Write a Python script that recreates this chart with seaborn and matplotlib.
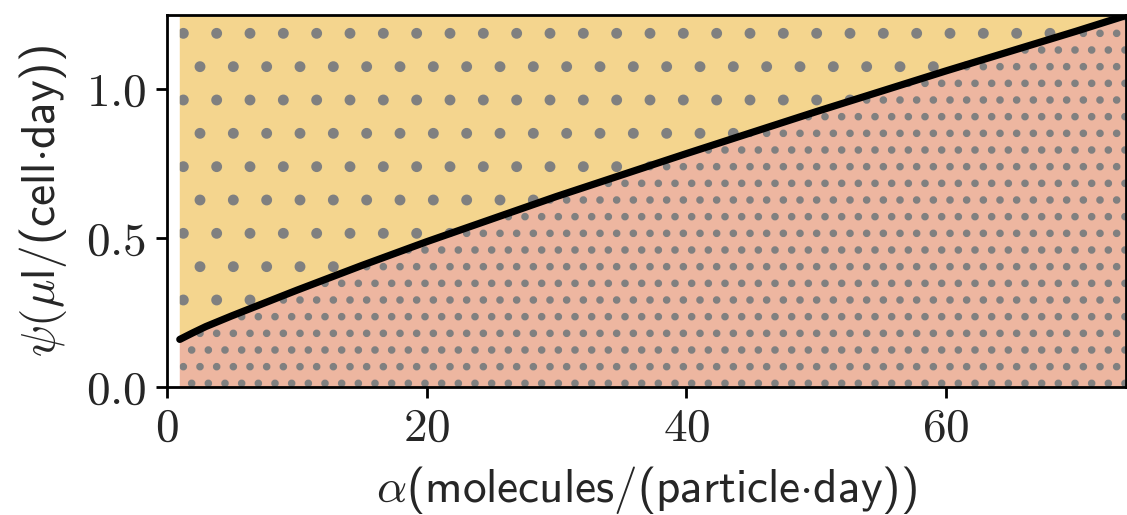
import seaborn as sns
import matplotlib.pyplot as plt
from matplotlib.ticker import FuncFormatter

# threshold curve
alpha = [1, 2, 3, 5, 7.5, 10, 15, 20, 30, 40, 50, 60, 70, 74]
psi = [0.160, 0.182, 0.203, 0.239, 0.282, 0.325, 0.408, 0.488, 0.640, 0.784, 0.925, 1.062, 1.195, 1.25]
x_ticks = [0, 20, 40, 60]
y_ticks = [0.0, 0.5, 1.0]

sns.set_style("ticks")
plt.rcParams["font.family"] = ["cmss10", "DejaVu Sans"]
plt.rcParams["mathtext.fontset"] = "cm"
plt.rcParams["axes.unicode_minus"] = False
plt.rcParams["hatch.linewidth"] = 1.5

fig = plt.figure(figsize=(5.635, 2.575), dpi=200)
ax = fig.add_axes([0.148, 0.2485, 0.851, 0.7225])

ymax = 1.25
ax.fill_between(alpha, 0, psi, facecolor="#EDB6A0", hatch="..", edgecolor="gray", linewidth=0)
ax.fill_between(alpha, psi, ymax, facecolor="#F4D58E", hatch=".", edgecolor="gray", linewidth=0)
sns.lineplot(x=alpha, y=psi, color="black", lw=2.6, ax=ax)

ax.set_xlim(0, 73.85)
ax.set_ylim(0, ymax)
ax.set_xticks(x_ticks)
ax.set_yticks(y_ticks)
ax.xaxis.set_major_formatter(FuncFormatter(lambda v, _: f"${v:.0f}$"))
ax.yaxis.set_major_formatter(FuncFormatter(lambda v, _: f"${v:.1f}$"))
ax.tick_params(labelsize=17, width=1, length=4, color="black")
for s in ax.spines.values():
    s.set_linewidth(1)
    s.set_color("black")

ax.set_xlabel(r"$\alpha$(molecules/(particle$\cdot$day))", fontsize=17, labelpad=5)
ax.set_ylabel(r"$\psi(\mu$l/(cell$\cdot$day))", fontsize=17, labelpad=6)

fig.savefig("out.png", dpi=200)
